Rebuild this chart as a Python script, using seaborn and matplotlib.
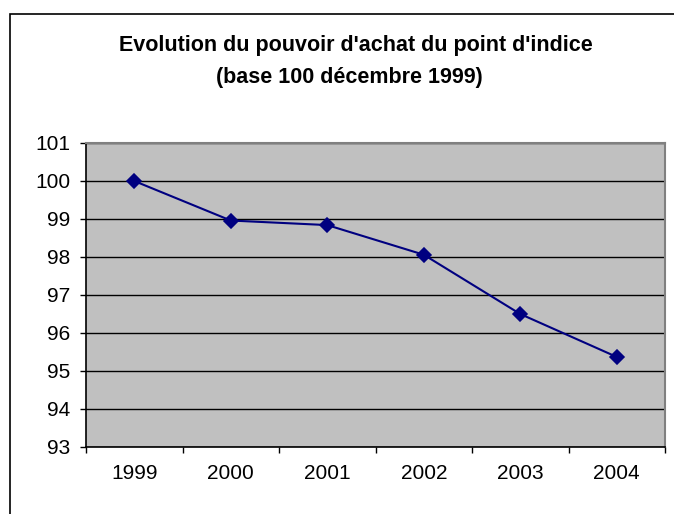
import numpy as np
import pandas as pd
import seaborn as sns
import matplotlib.pyplot as plt
from matplotlib.patches import Rectangle

years = ['1999', '2000', '2001', '2002', '2003', '2004']
indice = [100.0, 98.96, 98.84, 98.06, 96.50, 95.37]

df = pd.DataFrame({'annee': years, 'indice': indice})

sns.set_style('white')
plt.rcParams['font.family'] = ['Liberation Sans', 'DejaVu Sans']
plt.rcParams['text.color'] = 'black'
plt.rcParams['xtick.color'] = 'black'
plt.rcParams['ytick.color'] = 'black'

fig = plt.figure(figsize=(6.74, 5.14), dpi=100)
ax = fig.add_axes([86 / 674, 1 - 447 / 514, (665 - 86) / 674, (447 - 143) / 514])

# outer chart frame (Excel style)
fig.patches.append(Rectangle((10 / 674, -0.1), 1.0, 1 - 14 / 514 + 0.1,
                             transform=fig.transFigure, fill=False,
                             edgecolor='black', linewidth=1.2))

sns.pointplot(data=df, x='annee', y='indice', ax=ax, color='#000080',
              markers='D', markersize=7, linewidth=1.5, errorbar=None)

ax.set_facecolor('#C0C0C0')
ax.set_ylim(93, 101)
ax.set_yticks(range(93, 102))
ax.set_xlim(-0.5, len(years) - 0.5)
ax.set_xticks(np.arange(len(years) + 1) - 0.5, minor=True)
ax.tick_params(axis='x', which='major', bottom=True, length=0, pad=12, labelsize=15)
ax.tick_params(axis='x', which='minor', bottom=True, length=4.5, width=1, color='black', direction='out')
ax.tick_params(axis='y', left=True, length=4.5, width=1, color='black', direction='out', labelsize=15, pad=7)
ax.yaxis.grid(True, color='black', linewidth=1)
ax.set_axisbelow(True)
ax.set_xlabel('')
ax.set_ylabel('')

for side in ['left', 'bottom']:
    ax.spines[side].set_color('black')
    ax.spines[side].set_linewidth(1.2)
for side in ['top', 'right']:
    ax.spines[side].set_visible(True)
    ax.spines[side].set_color('#808080')
    ax.spines[side].set_linewidth(1.5)

fig.text(356 / 674, 1 - 45 / 514, "Evolution du pouvoir d'achat du point d'indice",
         ha='center', va='center', fontsize=15.5, fontweight='bold')
fig.text(349 / 674, 1 - 77 / 514, "(base 100 décembre 1999)",
         ha='center', va='center', fontsize=15.5, fontweight='bold')

fig.savefig('out.png', dpi=100)
